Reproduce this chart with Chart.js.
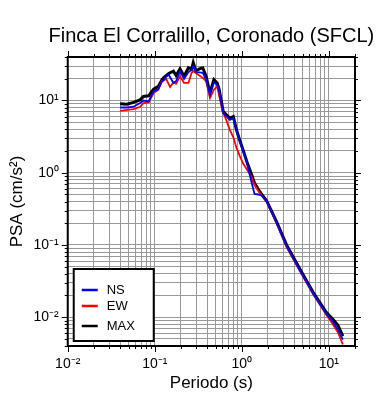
<!DOCTYPE html>
<html>
<head>
<meta charset="utf-8">
<script src="https://cdn.jsdelivr.net/npm/chart.js@4.4.1/dist/chart.umd.min.js"></script>
<style>
  html, body { margin: 0; padding: 0; background: #fff; }
</style>
</head>
<body>
<canvas id="psaChart" width="390" height="400"></canvas>
<script>
// periods (s) and spectral accelerations (cm/s^2)
let periods = [0.04, 0.048, 0.057, 0.068, 0.074, 0.085, 0.097, 0.11, 0.12, 0.126, 0.135, 0.144, 0.15,
    0.164, 0.176, 0.195, 0.217, 0.244, 0.265, 0.277, 0.297, 0.325, 0.356, 0.389, 0.431, 0.478, 0.522,
    0.55, 0.613, 0.67, 0.73, 0.80, 0.87, 0.95, 1.04, 1.15, 1.29, 1.4, 1.55, 1.7, 1.93, 2.5, 3.26,
    4.63, 6.58, 9.35, 11, 12.7, 14.5];

let psaNS = [8.0, 8.0, 8.2, 9.2, 10.0, 9.7, 13.4, 14.4, 18.0, 19.1, 21.5, 22.9, 21.0,
    17.5, 18.5, 25.5, 19.9, 24.7, 26.5, 30.0, 24.7, 24.5, 24.2, 19.5, 12.0, 17.9, 16.5,
    13.4, 6.7, 6.0, 5.4, 5.7, 3.8, 2.7, 1.95, 1.35, 0.75, 0.51, 0.50, 0.48, 0.40, 0.205, 0.097,
    0.045, 0.0215, 0.0112, 0.0088, 0.0068, 0.0049];

let psaEW = [7.2, 7.4, 7.6, 8.2, 9.2, 9.4, 12.7, 14.1, 18.5, 19.0, 19.9, 17.0, 15.4,
    17.9, 17.0, 21.7, 17.5, 17.5, 24.2, 25.5, 24.0, 22.2, 20.6, 18.5, 10.8, 14.1, 15.7,
    11.5, 6.8, 5.2, 3.9, 3.1, 2.2, 1.7, 1.33, 1.1, 0.88, 0.68, 0.56, 0.48, 0.40, 0.200, 0.094,
    0.044, 0.021, 0.0108, 0.0082, 0.0062, 0.0042];

let psaMAX = [9.0, 8.9, 9.4, 10.2, 11.4, 11.6, 14.4, 15.7, 19.0, 20.6, 22.0, 23.4, 24.2,
    25.5, 22.2, 27.5, 21.7, 28.4, 27.0, 33.4, 25.5, 27.5, 28.4, 21.7, 12.7, 19.5, 17.5,
    14.1, 7.0, 6.3, 5.7, 6.0, 3.9, 2.8, 2.04, 1.4, 0.96, 0.72, 0.59, 0.50, 0.41, 0.213, 0.101,
    0.047, 0.0223, 0.0117, 0.0095, 0.0078, 0.0055];

let decadeValues = [0.01, 0.1, 1, 10];
let decadeLabels = ['10\u207B\u00B2', '10\u207B\u00B9', '10\u2070', '10\u00B9'];

let chartTitle = 'Finca El Corralillo, Coronado (SFCL)';
let legendNames = ['NS', 'EW', 'MAX'];
let legendColors = ['#0000ff', '#ff0000', '#000000'];

let fontFamily = '"Liberation Sans", Arial, Helvetica, sans-serif';

function toPoints(ys) {
    return periods.map((p, i) => ({x: p, y: ys[i]}));
}

function isDecade(v) {
    let l = Math.log10(v);
    return Math.abs(l - Math.round(l)) < 1e-6;
}

function decadeLabel(v) {
    for (let i = 0; i < decadeValues.length; i++) {
        if (Math.abs(v / decadeValues[i] - 1) < 1e-6) return decadeLabels[i];
    }
    return '';
}

// 1..9 x 10^n ticks inside the axis range
function logTicks(min, max) {
    let out = [];
    for (let e = Math.floor(Math.log10(min)); e <= Math.ceil(Math.log10(max)); e++) {
        for (let m = 1; m <= 9; m++) {
            let v = parseFloat((m * Math.pow(10, e)).toPrecision(6));
            if (v >= min * 0.9999 && v <= max * 1.0001) out.push({value: v, major: m === 1});
        }
    }
    return out;
}

// frame + outward tick marks on all four sides, title centred over the plot
let framePlugin = {
    id: 'frame',
    afterDraw(chart) {
        let ctx = chart.ctx, ca = chart.chartArea;
        let xs = chart.scales.x, ys = chart.scales.y;
        ctx.save();
        ctx.strokeStyle = '#000';
        ctx.lineWidth = 1;
        xs.ticks.forEach(t => {
            let px = Math.round(xs.getPixelForValue(t.value)) + 0.5;
            let len = isDecade(t.value) ? 6 : 3;
            ctx.beginPath();
            ctx.moveTo(px, ca.bottom); ctx.lineTo(px, ca.bottom + len);
            ctx.moveTo(px, ca.top); ctx.lineTo(px, ca.top - len);
            ctx.stroke();
        });
        ys.ticks.forEach(t => {
            let py = Math.round(ys.getPixelForValue(t.value)) + 0.5;
            let len = isDecade(t.value) ? 6 : 3;
            ctx.beginPath();
            ctx.moveTo(ca.left, py); ctx.lineTo(ca.left - len, py);
            ctx.moveTo(ca.right, py); ctx.lineTo(ca.right + len, py);
            ctx.stroke();
        });
        ctx.lineWidth = 2;
        ctx.strokeRect(ca.left, ca.top, ca.right - ca.left, ca.bottom - ca.top);

        ctx.fillStyle = '#000';
        ctx.font = '20px ' + fontFamily;
        ctx.textAlign = 'center';
        ctx.textBaseline = 'middle';
        ctx.fillText(chartTitle, (ca.left + ca.right) / 2, 36);
        ctx.restore();
    }
};

// legend box in the lower left corner of the plot
let legendBoxPlugin = {
    id: 'legendBox',
    afterDraw(chart) {
        let ctx = chart.ctx, ca = chart.chartArea;
        let bx = ca.left + 6, by = ca.bottom - 77, bw = 80, bh = 72;
        ctx.save();
        ctx.fillStyle = '#fff';
        ctx.fillRect(bx, by, bw, bh);
        ctx.strokeStyle = '#000';
        ctx.lineWidth = 2;
        ctx.strokeRect(bx, by, bw, bh);
        let rows = [by + 21, by + 37, by + 57];
        ctx.font = '13px ' + fontFamily;
        ctx.textBaseline = 'middle';
        ctx.textAlign = 'left';
        legendNames.forEach((name, i) => {
            ctx.strokeStyle = legendColors[i];
            ctx.lineWidth = 2.5;
            ctx.beginPath();
            ctx.moveTo(bx + 8, rows[i]);
            ctx.lineTo(bx + 24, rows[i]);
            ctx.stroke();
            ctx.fillStyle = '#000';
            ctx.fillText(name, bx + 33, rows[i]);
        });
        ctx.restore();
    }
};

let gridColor = '#999999';

new Chart(document.getElementById('psaChart'), {
    type: 'line',
    data: {
        datasets: [{
            label: 'NS',
            data: toPoints(psaNS),
            borderColor: legendColors[0],
            borderWidth: 1.8,
            pointRadius: 0,
            tension: 0,
            fill: false
        }, {
            label: 'EW',
            data: toPoints(psaEW),
            borderColor: legendColors[1],
            borderWidth: 1.8,
            pointRadius: 0,
            tension: 0,
            fill: false
        }, {
            label: 'MAX',
            data: toPoints(psaMAX),
            borderColor: legendColors[2],
            borderWidth: 3,
            pointRadius: 0,
            tension: 0,
            fill: false
        }]
    },
    options: {
        responsive: false,
        animation: false,
        layout: {padding: {left: 0, right: 35, top: 57, bottom: 0}},
        plugins: {
            legend: {display: false},
            tooltip: {enabled: false},
            title: {display: false}
        },
        scales: {
            x: {
                type: 'logarithmic',
                min: 0.01,
                max: 20,
                afterBuildTicks: scale => { scale.ticks = logTicks(scale.min, scale.max); },
                grid: {color: gridColor, lineWidth: 1, drawTicks: false},
                border: {display: false},
                ticks: {
                    autoSkip: false,
                    maxRotation: 0,
                    padding: 11,
                    color: '#000',
                    font: {family: fontFamily, size: 14, lineHeight: 1},
                    callback: v => decadeLabel(v)
                },
                title: {
                    display: true,
                    text: 'Periodo (s)',
                    color: '#000',
                    font: {family: fontFamily, size: 17, lineHeight: 1},
                    padding: {top: -7.5, bottom: 8.5}
                }
            },
            y: {
                type: 'logarithmic',
                min: 0.004,
                max: 40,
                afterBuildTicks: scale => { scale.ticks = logTicks(scale.min, scale.max); },
                grid: {color: gridColor, lineWidth: 1, drawTicks: false},
                border: {display: false},
                ticks: {
                    autoSkip: false,
                    padding: 9,
                    color: '#000',
                    font: {family: fontFamily, size: 14, lineHeight: 1},
                    callback: v => decadeLabel(v)
                },
                title: {
                    display: true,
                    text: 'PSA (cm/s\u00B2)',
                    color: '#000',
                    font: {family: fontFamily, size: 17, lineHeight: 1},
                    padding: {top: 8.5, bottom: -1}
                }
            }
        }
    },
    plugins: [framePlugin, legendBoxPlugin]
});
</script>
</body>
</html>
